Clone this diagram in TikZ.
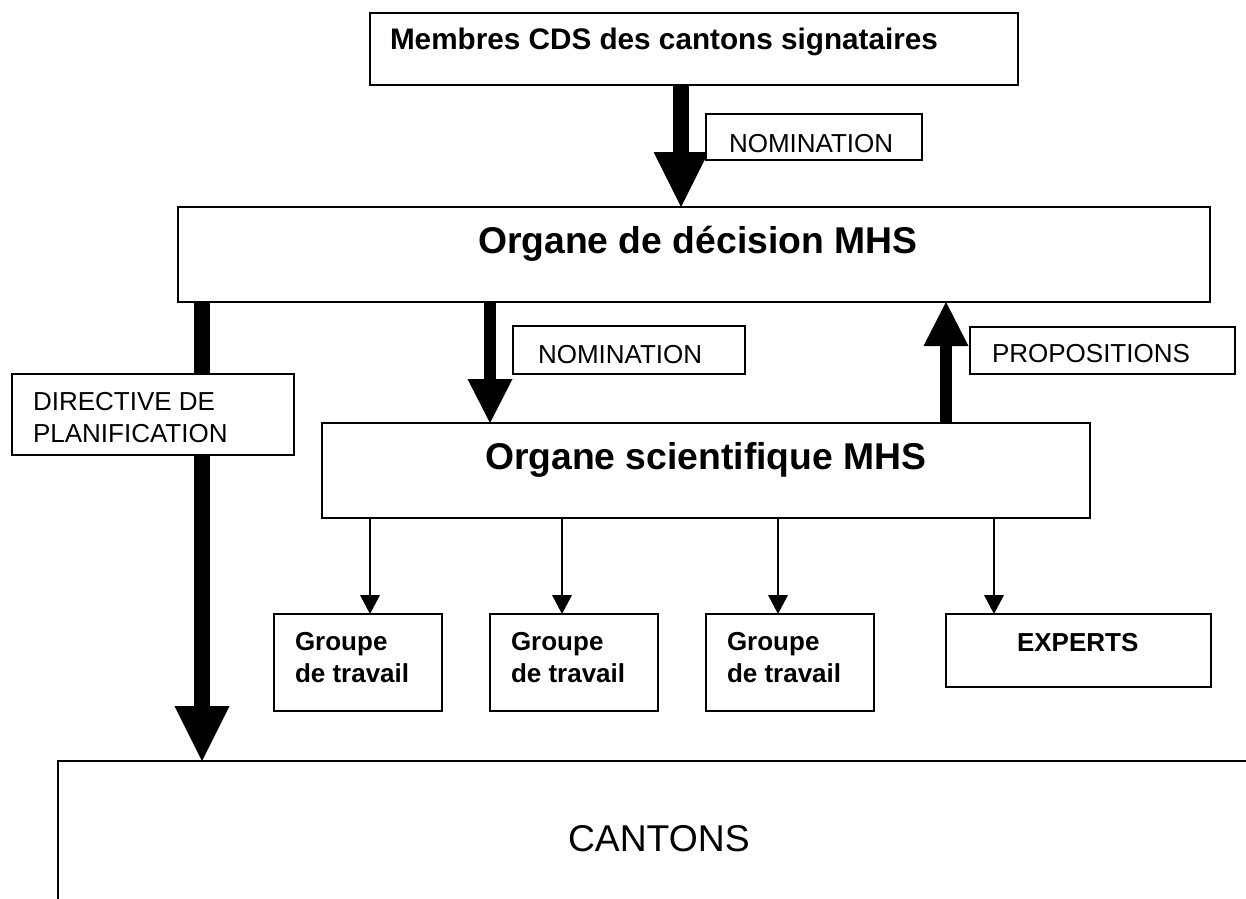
\documentclass[tikz,border=0pt]{standalone}
\usepackage{fontspec}
\setmainfont{Liberation Sans}
\usetikzlibrary{arrows.meta}
% #1 width, #2 height, #3 left offset, #4 baseline from top, #5 content
\newcommand\bxt[5]{\vbox to #2pt{\kern#4pt\hbox to #1pt{\kern#3pt\smash{#5}\hss}\vss}}
\newcommand\twol[2]{\vtop{\baselineskip=32pt\hbox{#1}\hbox{#2}}}
\tikzset{
  box/.style={draw, line width=1.5pt, fill=white, inner sep=0pt, outer sep=0pt, anchor=north west},
  lbl/.style={font=\fontsize{26}{31}\selectfont},
  lblb/.style={font=\fontsize{26}{31}\selectfont\bfseries},
  mid/.style={font=\fontsize{29.7}{35}\selectfont\bfseries},
  big/.style={font=\fontsize{37.3}{44}\selectfont\bfseries},
  bigr/.style={font=\fontsize{37.3}{44}\selectfont},
  thickarr/.style={line width=16pt, -{Triangle[width=55pt,length=55pt,line width=0pt]}},
  medarr/.style={line width=11.5pt, -{Triangle[width=45pt,length=44pt,line width=0pt]}},
  thinarr/.style={line width=2pt, -{Triangle[width=20pt,length=19pt,line width=0pt]}}
}
\begin{document}
\begin{tikzpicture}[x=1pt,y=-1pt]
\path[use as bounding box] (0,0) rectangle (1246,898);
\clip (0,0) rectangle (1246,898);

% main boxes
\node[box, mid] (top) at (370,13) {\bxt{648}{72}{20}{36}{Membres CDS des cantons signataires}};
\node[box, big] (dec) at (178,207) {\bxt{1032}{95}{300}{46}{Organe de décision MHS}};
\node[box, big] (sci) at (322,423) {\bxt{768}{95}{163}{46}{Organe scientifique MHS}};
\node[box, lblb] (g1) at (274,614) {\bxt{168}{97}{21}{36}{\twol{Groupe}{de travail}}};
\node[box, lblb] (g2) at (490,614) {\bxt{168}{97}{21}{36}{\twol{Groupe}{de travail}}};
\node[box, lblb] (g3) at (706,614) {\bxt{168}{97}{21}{36}{\twol{Groupe}{de travail}}};
\node[box, lblb] (exp) at (946,614) {\bxt{265}{73}{71}{37}{EXPERTS}};
\node[box, bigr, line width=2pt] (cant) at (58,761) {\bxt{1300}{200}{510}{90}{CANTONS}};

% thick arrows
\coordinate (a1s) at ([xshift=-13pt]top.south);
\draw[thickarr] (a1s) -- (a1s |- dec.north);
\coordinate (a2s) at ([xshift=-492pt]dec.south);
\draw[thickarr] (a2s) -- (a2s |- cant.north);
\coordinate (a3s) at ([xshift=-204pt]dec.south);
\draw[medarr] (a3s) -- (a3s |- sci.north);
\coordinate (a4s) at ([xshift=240pt]sci.north);
\draw[medarr] (a4s) -- (a4s |- dec.south);

% thin arrows
\coordinate (t1) at ([xshift=-336pt]sci.south);
\coordinate (t2) at ([xshift=-144pt]sci.south);
\coordinate (t3) at ([xshift=72pt]sci.south);
\coordinate (t4) at ([xshift=288pt]sci.south);
\draw[thinarr] (t1) -- (t1 |- g1.north);
\draw[thinarr] (t2) -- (t2 |- g2.north);
\draw[thinarr] (t3) -- (t3 |- g3.north);
\draw[thinarr] (t4) -- (t4 |- exp.north);

% label boxes (over the arrows)
\node[box, lbl] (nom1) at (706,114) {\bxt{216}{46}{23}{38}{NOMINATION}};
\node[box, lbl] (nom2) at (513,326) {\bxt{232}{48}{25}{37}{NOMINATION}};
\node[box, lbl] (prop) at (970,327) {\bxt{265}{47}{22}{35}{PROPOSITIONS}};
\node[box, lbl] (dir) at (12,374) {\bxt{282}{81}{21}{36}{\twol{DIRECTIVE DE}{PLANIFICATION}}};
\end{tikzpicture}
\end{document}
